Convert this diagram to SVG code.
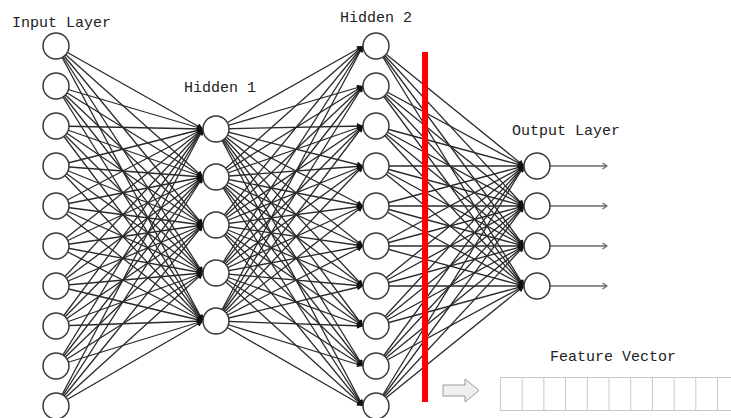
<svg xmlns="http://www.w3.org/2000/svg" width="731" height="418" viewBox="0 0 731 418">
<style>
.bg{fill:#fff}
.e line{stroke:#2a2a2a;stroke-width:1.3;marker-end:url(#ah)}
.o line{stroke:#6a6a6a;stroke-width:1.6;marker-end:url(#oa)}
.n circle{fill:#fff;stroke:#3a3a3a;stroke-width:1.5}
.lbl{font-family:"Liberation Mono","DejaVu Sans Mono",monospace;font-size:15px;fill:#222}
.cell{fill:none;stroke:#c8c8c8;stroke-width:1}
</style>
<defs>
<marker id="ah" viewBox="0 0 10 10" refX="10" refY="5" markerWidth="7" markerHeight="6" markerUnits="userSpaceOnUse" orient="auto">
<path d="M0,0 L10,5 L0,10 z" fill="#111"/>
</marker>
<marker id="oa" viewBox="0 0 8 10" refX="7" refY="5" markerWidth="6" markerHeight="8" markerUnits="userSpaceOnUse" orient="auto">
<path d="M1,1 L7,5 L1,9" fill="none" stroke="#6a6a6a" stroke-width="1.6"/>
</marker>
</defs>
<rect class="bg" x="0" y="0" width="731" height="418"/>
<g id="connectors">
<g class="e" id="in-h1">
<line x1="56" y1="46" x2="203" y2="129"/><line x1="56" y1="46" x2="203" y2="177"/><line x1="56" y1="46" x2="203" y2="225"/><line x1="56" y1="46" x2="203" y2="273"/><line x1="56" y1="46" x2="203" y2="321"/>
<line x1="56" y1="86" x2="203" y2="129"/><line x1="56" y1="86" x2="203" y2="177"/><line x1="56" y1="86" x2="203" y2="225"/><line x1="56" y1="86" x2="203" y2="273"/><line x1="56" y1="86" x2="203" y2="321"/>
<line x1="56" y1="126" x2="203" y2="129"/><line x1="56" y1="126" x2="203" y2="177"/><line x1="56" y1="126" x2="203" y2="225"/><line x1="56" y1="126" x2="203" y2="273"/><line x1="56" y1="126" x2="203" y2="321"/>
<line x1="56" y1="166" x2="203" y2="129"/><line x1="56" y1="166" x2="203" y2="177"/><line x1="56" y1="166" x2="203" y2="225"/><line x1="56" y1="166" x2="203" y2="273"/><line x1="56" y1="166" x2="203" y2="321"/>
<line x1="56" y1="206" x2="203" y2="129"/><line x1="56" y1="206" x2="203" y2="177"/><line x1="56" y1="206" x2="203" y2="225"/><line x1="56" y1="206" x2="203" y2="273"/><line x1="56" y1="206" x2="203" y2="321"/>
<line x1="56" y1="246" x2="203" y2="129"/><line x1="56" y1="246" x2="203" y2="177"/><line x1="56" y1="246" x2="203" y2="225"/><line x1="56" y1="246" x2="203" y2="273"/><line x1="56" y1="246" x2="203" y2="321"/>
<line x1="56" y1="286" x2="203" y2="129"/><line x1="56" y1="286" x2="203" y2="177"/><line x1="56" y1="286" x2="203" y2="225"/><line x1="56" y1="286" x2="203" y2="273"/><line x1="56" y1="286" x2="203" y2="321"/>
<line x1="56" y1="326" x2="203" y2="129"/><line x1="56" y1="326" x2="203" y2="177"/><line x1="56" y1="326" x2="203" y2="225"/><line x1="56" y1="326" x2="203" y2="273"/><line x1="56" y1="326" x2="203" y2="321"/>
<line x1="56" y1="366" x2="203" y2="129"/><line x1="56" y1="366" x2="203" y2="177"/><line x1="56" y1="366" x2="203" y2="225"/><line x1="56" y1="366" x2="203" y2="273"/><line x1="56" y1="366" x2="203" y2="321"/>
<line x1="56" y1="406" x2="203" y2="129"/><line x1="56" y1="406" x2="203" y2="177"/><line x1="56" y1="406" x2="203" y2="225"/><line x1="56" y1="406" x2="203" y2="273"/><line x1="56" y1="406" x2="203" y2="321"/>
</g>
<g class="e" id="h1-h2">
<line x1="216" y1="129" x2="363" y2="46"/><line x1="216" y1="129" x2="363" y2="86"/><line x1="216" y1="129" x2="363" y2="126"/><line x1="216" y1="129" x2="363" y2="166"/><line x1="216" y1="129" x2="363" y2="206"/><line x1="216" y1="129" x2="363" y2="246"/><line x1="216" y1="129" x2="363" y2="286"/><line x1="216" y1="129" x2="363" y2="326"/><line x1="216" y1="129" x2="363" y2="366"/><line x1="216" y1="129" x2="363" y2="406"/>
<line x1="216" y1="177" x2="363" y2="46"/><line x1="216" y1="177" x2="363" y2="86"/><line x1="216" y1="177" x2="363" y2="126"/><line x1="216" y1="177" x2="363" y2="166"/><line x1="216" y1="177" x2="363" y2="206"/><line x1="216" y1="177" x2="363" y2="246"/><line x1="216" y1="177" x2="363" y2="286"/><line x1="216" y1="177" x2="363" y2="326"/><line x1="216" y1="177" x2="363" y2="366"/><line x1="216" y1="177" x2="363" y2="406"/>
<line x1="216" y1="225" x2="363" y2="46"/><line x1="216" y1="225" x2="363" y2="86"/><line x1="216" y1="225" x2="363" y2="126"/><line x1="216" y1="225" x2="363" y2="166"/><line x1="216" y1="225" x2="363" y2="206"/><line x1="216" y1="225" x2="363" y2="246"/><line x1="216" y1="225" x2="363" y2="286"/><line x1="216" y1="225" x2="363" y2="326"/><line x1="216" y1="225" x2="363" y2="366"/><line x1="216" y1="225" x2="363" y2="406"/>
<line x1="216" y1="273" x2="363" y2="46"/><line x1="216" y1="273" x2="363" y2="86"/><line x1="216" y1="273" x2="363" y2="126"/><line x1="216" y1="273" x2="363" y2="166"/><line x1="216" y1="273" x2="363" y2="206"/><line x1="216" y1="273" x2="363" y2="246"/><line x1="216" y1="273" x2="363" y2="286"/><line x1="216" y1="273" x2="363" y2="326"/><line x1="216" y1="273" x2="363" y2="366"/><line x1="216" y1="273" x2="363" y2="406"/>
<line x1="216" y1="321" x2="363" y2="46"/><line x1="216" y1="321" x2="363" y2="86"/><line x1="216" y1="321" x2="363" y2="126"/><line x1="216" y1="321" x2="363" y2="166"/><line x1="216" y1="321" x2="363" y2="206"/><line x1="216" y1="321" x2="363" y2="246"/><line x1="216" y1="321" x2="363" y2="286"/><line x1="216" y1="321" x2="363" y2="326"/><line x1="216" y1="321" x2="363" y2="366"/><line x1="216" y1="321" x2="363" y2="406"/>
</g>
<g class="e" id="h2-out">
<line x1="376" y1="46" x2="524" y2="166"/><line x1="376" y1="46" x2="524" y2="206"/><line x1="376" y1="46" x2="524" y2="246"/><line x1="376" y1="46" x2="524" y2="286"/>
<line x1="376" y1="86" x2="524" y2="166"/><line x1="376" y1="86" x2="524" y2="206"/><line x1="376" y1="86" x2="524" y2="246"/><line x1="376" y1="86" x2="524" y2="286"/>
<line x1="376" y1="126" x2="524" y2="166"/><line x1="376" y1="126" x2="524" y2="206"/><line x1="376" y1="126" x2="524" y2="246"/><line x1="376" y1="126" x2="524" y2="286"/>
<line x1="376" y1="166" x2="524" y2="166"/><line x1="376" y1="166" x2="524" y2="206"/><line x1="376" y1="166" x2="524" y2="246"/><line x1="376" y1="166" x2="524" y2="286"/>
<line x1="376" y1="206" x2="524" y2="166"/><line x1="376" y1="206" x2="524" y2="206"/><line x1="376" y1="206" x2="524" y2="246"/><line x1="376" y1="206" x2="524" y2="286"/>
<line x1="376" y1="246" x2="524" y2="166"/><line x1="376" y1="246" x2="524" y2="206"/><line x1="376" y1="246" x2="524" y2="246"/><line x1="376" y1="246" x2="524" y2="286"/>
<line x1="376" y1="286" x2="524" y2="166"/><line x1="376" y1="286" x2="524" y2="206"/><line x1="376" y1="286" x2="524" y2="246"/><line x1="376" y1="286" x2="524" y2="286"/>
<line x1="376" y1="326" x2="524" y2="166"/><line x1="376" y1="326" x2="524" y2="206"/><line x1="376" y1="326" x2="524" y2="246"/><line x1="376" y1="326" x2="524" y2="286"/>
<line x1="376" y1="366" x2="524" y2="166"/><line x1="376" y1="366" x2="524" y2="206"/><line x1="376" y1="366" x2="524" y2="246"/><line x1="376" y1="366" x2="524" y2="286"/>
<line x1="376" y1="406" x2="524" y2="166"/><line x1="376" y1="406" x2="524" y2="206"/><line x1="376" y1="406" x2="524" y2="246"/><line x1="376" y1="406" x2="524" y2="286"/>
</g>
<g class="o" id="outputs">
<line x1="550" y1="166" x2="607" y2="166"/><line x1="550" y1="206" x2="607" y2="206"/><line x1="550" y1="246" x2="607" y2="246"/><line x1="550" y1="286" x2="607" y2="286"/>
</g>
</g>
<g id="input-layer" class="n">
<circle id="in1" cx="56" cy="46" r="13"/><circle id="in2" cx="56" cy="86" r="13"/><circle id="in3" cx="56" cy="126" r="13"/><circle id="in4" cx="56" cy="166" r="13"/><circle id="in5" cx="56" cy="206" r="13"/><circle id="in6" cx="56" cy="246" r="13"/><circle id="in7" cx="56" cy="286" r="13"/><circle id="in8" cx="56" cy="326" r="13"/><circle id="in9" cx="56" cy="366" r="13"/><circle id="in10" cx="56" cy="406" r="13"/>
<text class="lbl" x="12" y="27">Input Layer</text>
</g>
<g id="hidden-1" class="n">
<circle id="h1a" cx="216" cy="129" r="13"/><circle id="h1b" cx="216" cy="177" r="13"/><circle id="h1c" cx="216" cy="225" r="13"/><circle id="h1d" cx="216" cy="273" r="13"/><circle id="h1e" cx="216" cy="321" r="13"/>
<text class="lbl" x="184" y="92">Hidden 1</text>
</g>
<g id="hidden-2" class="n">
<circle id="h2a" cx="376" cy="46" r="13"/><circle id="h2b" cx="376" cy="86" r="13"/><circle id="h2c" cx="376" cy="126" r="13"/><circle id="h2d" cx="376" cy="166" r="13"/><circle id="h2e" cx="376" cy="206" r="13"/><circle id="h2f" cx="376" cy="246" r="13"/><circle id="h2g" cx="376" cy="286" r="13"/><circle id="h2h" cx="376" cy="326" r="13"/><circle id="h2i" cx="376" cy="366" r="13"/><circle id="h2j" cx="376" cy="406" r="13"/>
<text class="lbl" x="340" y="22">Hidden 2</text>
</g>
<g id="output-layer" class="n">
<circle id="o1" cx="537" cy="166" r="13"/><circle id="o2" cx="537" cy="206" r="13"/><circle id="o3" cx="537" cy="246" r="13"/><circle id="o4" cx="537" cy="286" r="13"/>
<text class="lbl" x="512" y="135">Output Layer</text>
</g>
<g id="cut-line">
<rect x="422" y="52" width="6" height="350" fill="#ff0000"/>
</g>
<g id="block-arrow">
<polygon points="443,385 465,385 465,379 479,390.5 465,402 465,396 443,396" fill="#efefef" stroke="#9a9a9a" stroke-width="1"/>
</g>
<g id="feature-vector">
<text class="lbl" x="550" y="361">Feature Vector</text>
<rect class="cell" x="500.5" y="377.5" width="250" height="33"/>
<path class="cell" d="M522.2,377.5V410.5M543.9,377.5V410.5M565.6,377.5V410.5M587.3,377.5V410.5M609,377.5V410.5M630.7,377.5V410.5M652.4,377.5V410.5M674.1,377.5V410.5M695.8,377.5V410.5M717.5,377.5V410.5"/>
</g>
</svg>
